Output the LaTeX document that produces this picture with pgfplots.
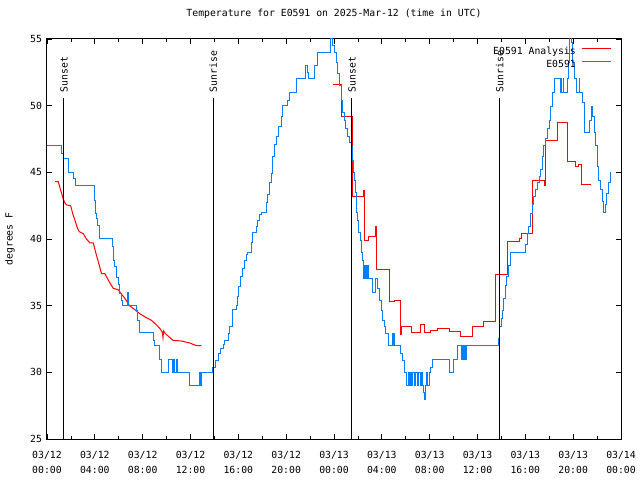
\documentclass[border=0pt]{standalone}
\usepackage{pgfplots}
\pgfplotsset{compat=1.18}
\usepackage{fontspec}
\setmainfont{DejaVu Sans Mono}
\definecolor{gpred}{RGB}{255,0,0}
\definecolor{gpblue}{RGB}{0,128,255}
\newcommand{\gf}{\fontsize{9.8bp}{12bp}\selectfont}
\begin{document}
\gf
\begin{tikzpicture}
\path[use as bounding box] (-47bp,-41bp) rectangle (593bp,439bp);
\begin{axis}[
  scale only axis, width=574bp, height=400bp,
  xmin=0, xmax=48, ymin=25, ymax=55,
  xtick={0,4,...,48},
  xticklabels={{03/12\\00:00},{03/12\\04:00},{03/12\\08:00},{03/12\\12:00},{03/12\\16:00},{03/12\\20:00},{03/13\\00:00},{03/13\\04:00},{03/13\\08:00},{03/13\\12:00},{03/13\\16:00},{03/13\\20:00},{03/14\\00:00}},
  minor x tick num=1,
  ytick={25,30,...,55},
  /pgf/number format/assume math mode=true,
  tick align=inside,
  major tick length=5bp, minor tick length=3bp,
  every tick/.style={black, line width=0.8bp},
  axis line style={black, line width=1bp},
  xticklabel style={align=center, font=\fontsize{9.8bp}{15bp}\selectfont, yshift=-9bp},
  yticklabel style={font=\gf, xshift=-1.5bp},
  title={Temperature for E0591 on 2025-Mar-12 (time in UTC)},
  title style={at={(axis description cs:0.5,1)}, anchor=center, yshift=19.5bp, font=\gf},
  ylabel={degrees F},
  ylabel style={at={(axis description cs:-0.0645,0.5)}, anchor=center, font=\gf},
  legend cell align=right,
  legend plot pos=right,
  legend image code/.code={\draw[#1] (0bp,3.5bp) -- (29bp,3.5bp);},
  legend style={draw=none, fill=none, at={(axis description cs:1,1)}, anchor=north east, xshift=-9bp, yshift=-6bp, font=\gf, inner sep=0pt, row sep=0pt, column sep=4bp, nodes={inner sep=2bp, text height=7bp, text depth=2bp}},
]
% E0591 Analysis, first night
\addplot[gpred, line width=1bp, sharp plot] coordinates {
(0.67,44.3) (0.94,44.3) (1.1,43.8) (1.36,43.0) (1.5,42.7) (1.64,42.55) (1.98,42.5)
(2.15,41.9) (2.34,41.4) (2.55,40.8) (2.70,40.55) (3.03,40.4) (3.3,40.0) (3.59,39.7)
(3.87,39.7) (4.1,38.9) (4.35,38.1) (4.56,37.4) (4.84,37.4) (5.2,36.8) (5.54,36.3)
(5.95,36.2) (6.2,35.9) (6.51,35.55) (6.9,35.0) (7.35,34.7) (7.76,34.4) (8.3,34.1)
(8.74,33.9) (9.1,33.6) (9.43,33.3) (9.65,33.0) (9.7,32.6) (9.75,33.1) (9.9,32.9)
(10.54,32.4) (11.24,32.35) (11.94,32.2) (12.5,32.0) (12.9,32.0)
};
\addlegendentry{E0591 Analysis}
% E0591 Analysis, second part
\addplot[gpred, line width=1bp, const plot, forget plot] coordinates {
(23.9,51.55) (24.6,49.15) (25.55,43.2) (26.5,43.6) (26.55,39.9) (26.85,40.2) (27.5,40.9)
(27.55,37.7) (28.6,35.3) (29.1,35.4) (29.55,32.8) (29.65,33.4) (30.5,33.0) (31.27,33.55)
(31.55,33.0) (32.1,33.1) (32.66,33.3) (33.65,33.05) (34.6,32.7) (35.58,33.4) (36.5,33.8)
(37.48,37.3) (38.55,39.8) (39.5,40.0) (39.65,40.4) (40.6,44.4) (41.6,44.0) (41.65,47.4)
(42.65,48.75) (43.55,45.8) (44.2,45.45) (44.45,45.6) (44.7,44.05) (45.5,44.05)
};
% E0591 observations
\addplot[gpblue, line width=1bp, const plot] coordinates {
(0,47) (1.25,46.4) (1.4,46) (1.78,45) (2.2,44.5) (2.35,44) (3.96,43.5) (4.0,42.9)
(4.09,41.9) (4.17,41.5) (4.26,41) (4.4,40) (5.45,39.4) (5.6,38.4) (5.68,37.9) (5.82,37.1)
(5.96,36.6) (6.09,35.9) (6.23,35.4) (6.31,35) (6.7,36) (6.76,35) (6.8,36) (6.85,35)
(7.5,34.6) (7.6,33.9) (7.7,33.4) (7.75,33) (8.87,32.4) (8.96,32) (9.38,31.4) (9.43,31)
(9.55,30.4) (9.6,30) (10.13,31) (10.5,30) (10.6,31) (10.7,30) (10.8,31) (10.9,30)
(11.94,29) (12.72,30) (12.78,29) (12.84,30) (12.88,29) (12.92,30) (13.88,30.4) (14.05,30.9)
(14.35,31.4) (14.55,31.8) (14.72,32.1) (14.86,32.4) (15.14,32.9) (15.28,33.4) (15.5,33.9)
(15.55,34.7) (15.83,35) (15.89,35.7) (16.05,36.4) (16.17,37.2) (16.33,37.8) (16.53,38.4)
(16.67,38.8) (16.75,39) (17.09,39.7) (17.22,40.5) (17.5,40.9) (17.64,41.4) (17.78,41.8)
(17.92,42) (18.34,42.7) (18.47,43.3) (18.61,44.2) (18.76,44.9) (18.84,46.2) (19.03,47.1)
(19.22,47.7) (19.39,48.4) (19.59,49.2) (19.72,50) (20.14,50.4) (20.28,51) (20.84,52)
(21.62,53) (21.75,52.5) (21.9,52) (22.37,53) (22.65,54) (23.68,55) (23.85,54.5) (24.0,54)
(24.18,53.2) (24.31,52.4) (24.45,51.5) (24.6,50.4) (24.75,49.5) (24.87,48.9) (25.0,48.3)
(25.15,47.7) (25.3,47.2) (25.43,46.9) (25.56,45.9) (25.63,45) (25.7,44.4) (25.78,43.5)
(25.85,42.9) (25.92,42) (25.98,41.4) (26.08,40.5) (26.18,39.9) (26.3,39) (26.4,38.4)
(26.45,38) (26.5,37) (26.55,38) (26.62,37) (26.68,38) (26.75,37) (26.8,38) (26.9,37)
(27.2,36) (27.45,37) (27.6,36.3) (27.8,35.4) (27.95,34.6) (28.06,33.9) (28.2,33.4)
(28.34,32.9) (28.55,32) (28.9,32.9) (28.97,32) (29.03,32.9) (29.1,32) (29.6,31.4)
(29.74,30.9) (29.88,30) (30.03,29) (30.2,30) (30.3,29) (30.4,30) (30.5,29) (30.6,30)
(30.75,29) (30.85,30) (31.0,29) (31.1,30) (31.2,29) (31.3,30) (31.4,29) (31.5,28.5)
(31.55,28) (31.65,29) (31.75,30) (31.85,29) (31.95,30) (32.1,30.4) (32.2,31) (33.64,30)
(34.0,31) (34.3,32) (34.7,31) (34.78,32) (34.85,31) (34.95,32) (35.0,31) (35.05,32)
(37.75,32.5) (37.85,33.4) (38.0,34) (38.1,34.6) (38.2,35.5) (38.3,36.5) (38.45,37.2)
(38.6,38) (38.8,39) (40.05,39.6) (40.15,40.4) (40.3,40.9) (40.45,41.9) (40.6,42.6)
(40.7,43.2) (40.85,43.7) (41.0,44.2) (41.15,44.7) (41.3,45.2) (41.4,46.2) (41.55,47)
(41.7,47.5) (41.85,48.3) (42.0,48.9) (42.1,49.9) (42.25,51) (42.4,52) (42.95,51) (43.0,52)
(43.05,51) (43.15,52) (43.2,51) (43.5,52) (43.62,53.2) (43.72,56) (43.85,54.7) (43.95,53.2)
(44.1,52) (44.25,51) (44.5,52) (44.55,51) (44.75,50.2) (44.95,48) (45.4,48.9) (45.55,49.9)
(45.65,49.2) (45.8,48) (45.9,47) (46.0,45.4) (46.15,44.4) (46.3,43.7) (46.45,42.8)
(46.55,42) (46.7,42.6) (46.8,43.4) (46.95,44.2) (47.1,45) (47.12,45)
};
\addlegendentry{E0591}
% sunset / sunrise markers
\draw[black, line width=1bp] (axis cs:1.42,25) -- (axis cs:1.42,50.6);
\draw[black, line width=1bp] (axis cs:13.9,25) -- (axis cs:13.9,50.6);
\draw[black, line width=1bp] (axis cs:25.5,25) -- (axis cs:25.5,50.6);
\draw[black, line width=1bp] (axis cs:37.85,25) -- (axis cs:37.85,50.6);
\node[rotate=90, anchor=west, inner sep=0pt, font=\gf] at (axis cs:1.42,51.0) {Sunset};
\node[rotate=90, anchor=west, inner sep=0pt, font=\gf] at (axis cs:13.9,51.0) {Sunrise};
\node[rotate=90, anchor=west, inner sep=0pt, font=\gf] at (axis cs:25.5,51.0) {Sunset};
\node[rotate=90, anchor=west, inner sep=0pt, font=\gf] at (axis cs:37.85,51.0) {Sunrise};
\end{axis}
\end{tikzpicture}
\end{document}
